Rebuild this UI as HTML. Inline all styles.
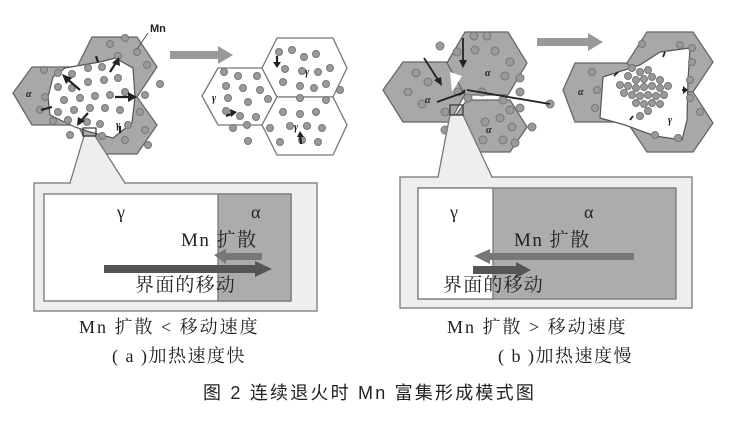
<!DOCTYPE html>
<html><head><meta charset="utf-8"><style>
html,body{margin:0;padding:0;background:#fff;width:739px;height:425px;overflow:hidden}
svg{display:block}
.s{font-family:"Liberation Serif","Noto Serif CJK SC",serif;fill:#222}
.t{font-family:"Liberation Sans","Noto Sans CJK SC",sans-serif;fill:#222}
</style></head><body>
<svg width="739" height="425" viewBox="0 0 739 425" xmlns="http://www.w3.org/2000/svg">
<g stroke="#666" stroke-width="1.3" fill="#a8a8a8">
<polygon points="13,93 32,67 75,67 92,93 75,125 32,125"/>
<polygon points="78,65 92,37 137,37 157,67 137,97 92,97"/>
<polygon points="78,125 92,97 137,97 157,125 137,154 92,154"/>
</g>
<polygon points="53,77 65,68 100,62 115,58 133,68 135,97 132,123 113,138 90,132 75,127 50,115 48,97" fill="#fff" stroke="#555" stroke-width="1.2"/>
<g stroke="#777" stroke-width="1.3" fill="#fff">
<polygon points="202,96 218,68 262,68 277,97 262,125 218,125"/>
<polygon points="262,68 277,38 333,38 347,68 333,97 277,97"/>
<polygon points="262,125 277,97 333,97 347,125 333,155 277,155"/>
</g>
<g stroke="#666" stroke-width="1.3" fill="#a8a8a8">
<polygon points="383,90 403,62 450,62 467,90 450,122 403,122"/>
<polygon points="447,63 465,32 508,32 527,63 508,95 465,95"/>
<polygon points="447,127 467,100 510,100 527,127 510,152 467,152"/>
</g>
<polygon points="450,72 462,76 452,92" fill="#fff"/>
<g stroke="#666" stroke-width="1.3" fill="#a8a8a8">
<polygon points="563,90 575,63 628,63 645,90 628,122 575,122"/>
<polygon points="627,63 647,32 693,32 713,62 693,92 647,92"/>
<polygon points="627,122 647,92 693,92 713,123 693,152 647,152"/>
</g>
<polygon points="603,77 640,65 660,52 690,48 688,80 687,120 682,140 655,136 625,125 600,118" fill="#fff" stroke="#555" stroke-width="1.2"/>
<polygon points="170,51 218,51 218,46 233,55 218,64 218,59 170,59" fill="#999"/>
<polygon points="537,38 588,38 588,33 603,42 588,51 588,46 537,46" fill="#999"/>
<g fill="#9a9a9a" stroke="#777" stroke-width="1">
<circle cx="44" cy="70" r="3.5"/><circle cx="58" cy="73" r="3.5"/><circle cx="72" cy="74" r="3.5"/><circle cx="88" cy="68" r="3.5"/><circle cx="102" cy="67" r="3.5"/><circle cx="110" cy="44" r="3.5"/><circle cx="125" cy="38" r="3.5"/><circle cx="137" cy="52" r="3.5"/><circle cx="118" cy="56" r="3.5"/><circle cx="147" cy="65" r="3.5"/><circle cx="160" cy="84" r="3.5"/><circle cx="58" cy="87" r="3.5"/><circle cx="72" cy="88" r="3.5"/><circle cx="88" cy="82" r="3.5"/><circle cx="104" cy="80" r="3.5"/><circle cx="118" cy="78" r="3.5"/><circle cx="45" cy="97" r="3.5"/><circle cx="64" cy="100" r="3.5"/><circle cx="80" cy="98" r="3.5"/><circle cx="95" cy="96" r="3.5"/><circle cx="110" cy="95" r="3.5"/><circle cx="125" cy="92" r="3.5"/><circle cx="145" cy="95" r="3.5"/><circle cx="40" cy="110" r="3.5"/><circle cx="58" cy="112" r="3.5"/><circle cx="74" cy="110" r="3.5"/><circle cx="90" cy="108" r="3.5"/><circle cx="105" cy="108" r="3.5"/><circle cx="120" cy="110" r="3.5"/><circle cx="140" cy="112" r="3.5"/><circle cx="53" cy="121" r="3.5"/><circle cx="68" cy="120" r="3.5"/><circle cx="87" cy="122" r="3.5"/><circle cx="100" cy="124" r="3.5"/><circle cx="128" cy="125" r="3.5"/><circle cx="145" cy="130" r="3.5"/><circle cx="70" cy="135" r="3.5"/><circle cx="102" cy="136" r="3.5"/><circle cx="125" cy="140" r="3.5"/><circle cx="148" cy="145" r="3.5"/>
</g>
<g fill="#9a9a9a" stroke="#777" stroke-width="1">
<circle cx="224" cy="72" r="3.5"/><circle cx="238" cy="76" r="3.5"/><circle cx="257" cy="76" r="3.5"/><circle cx="226" cy="86" r="3.5"/><circle cx="243" cy="88" r="3.5"/><circle cx="260" cy="90" r="3.5"/><circle cx="228" cy="98" r="3.5"/><circle cx="248" cy="102" r="3.5"/><circle cx="268" cy="99" r="3.5"/><circle cx="226" cy="111" r="3.5"/><circle cx="240" cy="116" r="3.5"/><circle cx="256" cy="117" r="3.5"/><circle cx="247" cy="125" r="3.5"/><circle cx="233" cy="128" r="3.5"/><circle cx="248" cy="141" r="3.5"/><circle cx="279" cy="52" r="3.5"/><circle cx="292" cy="50" r="3.5"/><circle cx="304" cy="57" r="3.5"/><circle cx="316" cy="54" r="3.5"/><circle cx="285" cy="69" r="3.5"/><circle cx="302" cy="71" r="3.5"/><circle cx="318" cy="72" r="3.5"/><circle cx="330" cy="68" r="3.5"/><circle cx="283" cy="82" r="3.5"/><circle cx="300" cy="86" r="3.5"/><circle cx="314" cy="88" r="3.5"/><circle cx="326" cy="84" r="3.5"/><circle cx="340" cy="90" r="3.5"/><circle cx="300" cy="98" r="3.5"/><circle cx="326" cy="100" r="3.5"/><circle cx="283" cy="112" r="3.5"/><circle cx="300" cy="114" r="3.5"/><circle cx="316" cy="112" r="3.5"/><circle cx="270" cy="128" r="3.5"/><circle cx="290" cy="126" r="3.5"/><circle cx="307" cy="126" r="3.5"/><circle cx="322" cy="128" r="3.5"/><circle cx="280" cy="142" r="3.5"/><circle cx="302" cy="140" r="3.5"/><circle cx="318" cy="142" r="3.5"/>
</g>
<g fill="#9a9a9a" stroke="#777" stroke-width="1">
<circle cx="440" cy="46" r="4"/><circle cx="457" cy="52" r="4"/><circle cx="474" cy="36" r="4"/><circle cx="487" cy="36" r="4"/><circle cx="475" cy="50" r="4"/><circle cx="495" cy="51" r="4"/><circle cx="510" cy="62" r="4"/><circle cx="505" cy="76" r="4"/><circle cx="520" cy="78" r="4"/><circle cx="520" cy="92" r="4"/><circle cx="416" cy="73" r="4"/><circle cx="428" cy="82" r="4"/><circle cx="408" cy="92" r="4"/><circle cx="422" cy="104" r="4"/><circle cx="458" cy="92" r="4"/><circle cx="468" cy="98" r="4"/><circle cx="482" cy="92" r="4"/><circle cx="503" cy="100" r="4"/><circle cx="510" cy="110" r="4"/><circle cx="500" cy="118" r="4"/><circle cx="520" cy="108" r="4"/><circle cx="485" cy="122" r="4"/><circle cx="465" cy="128" r="4"/><circle cx="512" cy="127" r="4"/><circle cx="532" cy="127" r="4"/><circle cx="445" cy="130" r="4"/><circle cx="445" cy="112" r="4"/><circle cx="455" cy="137" r="4"/><circle cx="483" cy="140" r="4"/><circle cx="503" cy="140" r="4"/><circle cx="515" cy="143" r="4"/><circle cx="550" cy="104" r="4"/>
</g>
<g fill="#9a9a9a" stroke="#777" stroke-width="1">
<circle cx="632" cy="68" r="3.5"/><circle cx="640" cy="72" r="3.5"/><circle cx="648" cy="70" r="3.5"/><circle cx="628" cy="76" r="3.5"/><circle cx="636" cy="80" r="3.5"/><circle cx="644" cy="79" r="3.5"/><circle cx="652" cy="77" r="3.5"/><circle cx="660" cy="80" r="3.5"/><circle cx="620" cy="85" r="3.5"/><circle cx="628" cy="86" r="3.5"/><circle cx="636" cy="88" r="3.5"/><circle cx="644" cy="87" r="3.5"/><circle cx="652" cy="86" r="3.5"/><circle cx="660" cy="88" r="3.5"/><circle cx="668" cy="86" r="3.5"/><circle cx="624" cy="93" r="3.5"/><circle cx="632" cy="95" r="3.5"/><circle cx="640" cy="96" r="3.5"/><circle cx="648" cy="95" r="3.5"/><circle cx="656" cy="96" r="3.5"/><circle cx="664" cy="95" r="3.5"/><circle cx="636" cy="103" r="3.5"/><circle cx="644" cy="104" r="3.5"/><circle cx="652" cy="103" r="3.5"/><circle cx="660" cy="104" r="3.5"/><circle cx="648" cy="111" r="3.5"/><circle cx="640" cy="116" r="3.5"/><circle cx="642" cy="44" r="3.5"/><circle cx="680" cy="45" r="3.5"/><circle cx="692" cy="48" r="3.5"/><circle cx="692" cy="62" r="3.5"/><circle cx="690" cy="80" r="3.5"/><circle cx="690" cy="98" r="3.5"/><circle cx="700" cy="112" r="3.5"/><circle cx="592" cy="72" r="3.5"/><circle cx="597" cy="90" r="3.5"/><circle cx="595" cy="108" r="3.5"/><circle cx="655" cy="135" r="3.5"/><circle cx="678" cy="138" r="3.5"/>
</g>
<g stroke="#222" stroke-width="2.2" fill="none">
<line x1="80" y1="90" x2="66" y2="78"/><line x1="110" y1="72" x2="117" y2="61"/><line x1="115" y1="97" x2="133" y2="97"/><line x1="88" y1="113" x2="80" y2="122"/><line x1="41" y1="110" x2="52" y2="107"/><line x1="120" y1="133" x2="120" y2="126"/><line x1="98" y1="62" x2="96" y2="56"/>
<line x1="226" y1="116" x2="234" y2="113"/><line x1="277" y1="56" x2="277" y2="65"/><line x1="301" y1="144" x2="300" y2="134"/>
</g>
<g fill="#222">
<polygon points="62,74 72,78 66,84"/><polygon points="119,57 120,66 112,63"/><polygon points="137,97 128,92 128,102"/><polygon points="77,126 78,117 85,121"/><polygon points="237,112 230,109 231,117"/><polygon points="300,131 297,137 304,137"/><polygon points="277,68 273,62 281,62"/>
</g>
<g stroke="#222" stroke-width="1.8" fill="none">
<line x1="424" y1="58" x2="440" y2="83"/><line x1="463" y1="38" x2="463" y2="64"/><line x1="437" y1="102" x2="465" y2="92"/><line x1="550" y1="104" x2="467" y2="90"/><line x1="465" y1="90" x2="460" y2="95"/>
<line x1="618" y1="72" x2="614" y2="76"/><line x1="663" y1="57" x2="665" y2="52"/><line x1="686" y1="90" x2="682" y2="90"/><line x1="633" y1="116" x2="630" y2="120"/>
</g>
<g fill="#222"><polygon points="442,86 434,80 441,77"/><polygon points="463,68 459,60 467,60"/><polygon points="688,90 683,86 683,94"/></g>
<g class="s" font-style="italic" font-size="10" font-weight="bold">
<text x="26" y="97">α</text><text x="116" y="128">γ</text><text x="212" y="101">γ</text><text x="305" y="75">γ</text><text x="294" y="130">γ</text>
<text x="425" y="103">α</text><text x="485" y="76">α</text><text x="486" y="133">α</text><text x="578" y="95">α</text><text x="668" y="123">γ</text>
</g>
<text x="150" y="32" class="t" font-size="11" font-weight="bold">Mn</text>
<line x1="148" y1="33" x2="137" y2="49" stroke="#555" stroke-width="1"/>
<polygon points="70,183 84,136 95,136 125,183" fill="#eee" stroke="#777" stroke-width="1.3"/>
<rect x="83" y="128" width="13" height="8" fill="none" stroke="#333" stroke-width="1.2"/>
<rect x="34" y="183" width="283" height="128" fill="#eee" stroke="#888" stroke-width="1.5"/>
<line x1="71" y1="183" x2="124" y2="183" stroke="#eee" stroke-width="2"/>
<rect x="44" y="194" width="247" height="107" fill="#fff" stroke="#777" stroke-width="1.3"/>
<rect x="218" y="194" width="73" height="107" fill="#acacac" stroke="#777" stroke-width="1.3"/>
<text x="117" y="218" class="s" font-size="18">γ</text>
<text x="251" y="218" class="s" font-size="18">α</text>
<text x="181" y="246" class="s" font-size="19" letter-spacing="1.5">Mn 扩散</text>
<polygon points="214,255 226,249 226,253 262,253 262,260 226,260 226,264" fill="#777"/>
<polygon points="104,265 255,265 255,261 272,269 255,277 255,273 104,273" fill="#555"/>
<text x="135" y="291" class="s" font-size="19" letter-spacing="1.2">界面的移动</text>
<polygon points="438,177 450,115 463,115 492,177" fill="#eee" stroke="#777" stroke-width="1.3"/>
<rect x="450" y="105" width="13" height="10" fill="none" stroke="#333" stroke-width="1.2"/>
<rect x="400" y="177" width="292" height="131" fill="#eee" stroke="#888" stroke-width="1.5"/>
<line x1="439" y1="177" x2="491" y2="177" stroke="#eee" stroke-width="2"/>
<rect x="418" y="188" width="258" height="111" fill="#acacac" stroke="#777" stroke-width="1.3"/>
<rect x="418" y="188" width="75" height="111" fill="#fff" stroke="#777" stroke-width="1.3"/>
<text x="450" y="218" class="s" font-size="18">γ</text>
<text x="584" y="218" class="s" font-size="18">α</text>
<text x="514" y="246" class="s" font-size="19" letter-spacing="1.5">Mn 扩散</text>
<polygon points="474,256 490,249 490,253 634,253 634,260 490,260 490,264" fill="#777"/>
<polygon points="473,266 516,266 516,262 531,270 516,278 516,274 473,274" fill="#555"/>
<text x="443" y="291" class="s" font-size="19" letter-spacing="1.2">界面的移动</text>
<text x="79" y="333" class="s" font-size="18" letter-spacing="2">Mn 扩散 &lt; 移动速度</text>
<text x="112" y="362" class="s" font-size="18" letter-spacing="1.5">( a )加热速度快</text>
<text x="447" y="333" class="s" font-size="18" letter-spacing="2">Mn 扩散 &gt; 移动速度</text>
<text x="498" y="362" class="s" font-size="18" letter-spacing="1.5">( b )加热速度慢</text>
<text x="203" y="399" class="t" font-size="18" letter-spacing="2.2">图 2  连续退火时 Mn 富集形成模式图</text>
</svg>
</body></html>
